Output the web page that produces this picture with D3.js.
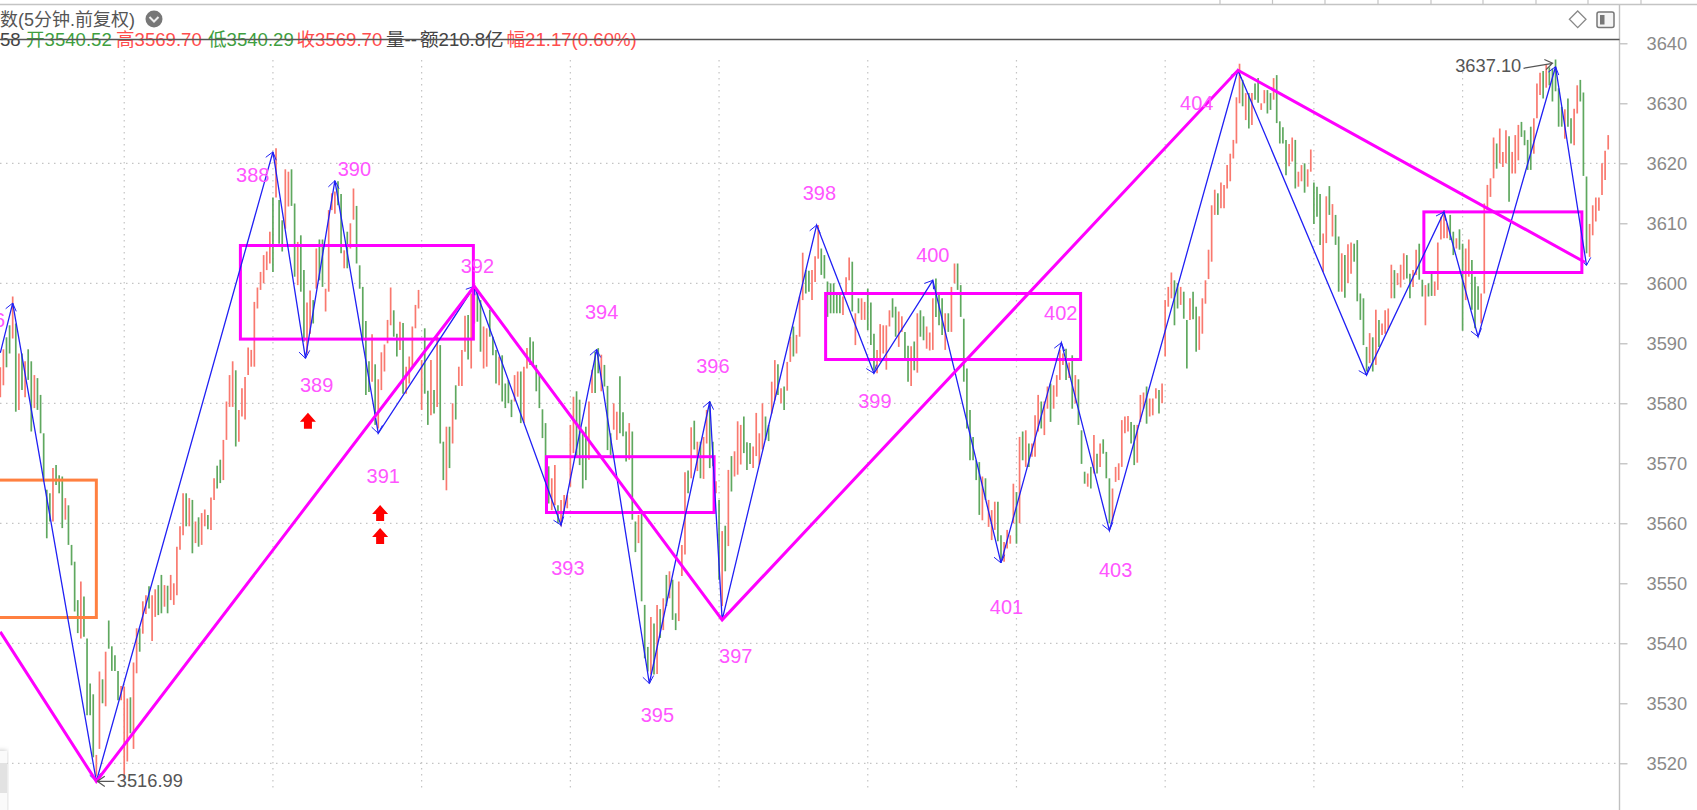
<!DOCTYPE html>
<html>
<head>
<meta charset="utf-8">
<script src="https://cdn.jsdelivr.net/npm/d3@7"></script>
<style>
    html, body { margin: 0; padding: 0; background: #fff; overflow: hidden; }
    text { font-family: "Liberation Sans", "Noto Sans CJK SC", sans-serif; }
</style>
</head>
<body>
<svg id="chart" width="1697" height="810"></svg>
<script>
// 5 minute bars, high / low / direction
const barHighs = [
    3586, 3589, 3591, 3593, 3597.8, 3593.3, 3588.3, 3588.3, 3587, 3589,
    3587, 3584.7, 3584.2, 3581.4, 3575, 3565.6, 3565, 3569.2, 3569.7, 3568,
    3567.8, 3564.2, 3563, 3556.4, 3553.6, 3547.2, 3550.3, 3547.8, 3540.8, 3533.3,
    3531.5, 3521.4, 3535.3, 3534, 3538.6, 3543.8, 3539.5, 3538, 3535.4, 3532.9,
    3532.8, 3530.8, 3531, 3536.8, 3542.5, 3542.5, 3547, 3548, 3549.5, 3548,
    3549, 3549.7, 3551.4, 3549.7, 3549.6, 3551.4, 3550, 3556.1, 3559.5, 3565,
    3565, 3564.2, 3563.9, 3560.3, 3561, 3561.7, 3562.3, 3561.4, 3564.3, 3567.5,
    3569.6, 3570.6, 3573.9, 3580.3, 3584.7, 3587, 3585.5, 3578.9, 3582.5, 3584.4,
    3589.3, 3588.9, 3596.9, 3599.3, 3601.9, 3604.7, 3605.3, 3608.6, 3614.3, 3622.5,
    3613.9, 3610.5, 3619, 3618.6, 3619, 3613.3, 3606.9, 3608, 3602.2, 3596.8,
    3598.8, 3597.2, 3605.8, 3607.3, 3607.3, 3599.1, 3612.2, 3615, 3615.3, 3617,
    3614.9, 3605.5, 3608.6, 3610, 3615.8, 3612.9, 3603, 3599.4, 3593.7, 3587,
    3591.5, 3586.5, 3584, 3588.5, 3589.8, 3593.9, 3599.3, 3595.5, 3591.6, 3593.6,
    3593.4, 3586.1, 3587.8, 3592.8, 3596.4, 3598.9, 3587.2, 3592.5, 3582.1, 3587.2,
    3582.2, 3591.1, 3589.7, 3573.6, 3576.1, 3576.1, 3580, 3583, 3586.1, 3588.9,
    3594.6, 3594.7, 3598.3, 3600, 3598.6, 3597.2, 3592.8, 3592.5, 3595.6, 3591.1,
    3588.9, 3587.8, 3588, 3583.3, 3583.9, 3580.6, 3584.7, 3585.3, 3585.3, 3586.1,
    3589.2, 3591, 3590.3, 3586.4, 3585, 3579, 3576.7, 3569.5, 3567.5, 3569.7,
    3563, 3563.9, 3564.7, 3564.7, 3576.4, 3581.1, 3582, 3580.6, 3575, 3576.1,
    3580.3, 3585.6, 3588.6, 3589.2, 3588.1, 3586.4, 3582.9, 3575, 3580, 3578.6,
    3584.5, 3578.5, 3575.3, 3576.7, 3575.3, 3560.3, 3561.4, 3561.7, 3546.4, 3539.4,
    3544.4, 3543.3, 3546.4, 3545.7, 3547.5, 3551.4, 3552, 3550.6, 3545, 3550.3,
    3556.4, 3568.5, 3568.8, 3576, 3577.1, 3573.6, 3573.6, 3574.4, 3578.9, 3580.3,
    3573.6, 3567, 3563.9, 3558.7, 3559.6, 3568.9, 3571.2, 3572, 3577, 3576.4,
    3577.8, 3573.5, 3573.4, 3572.8, 3578.4, 3575, 3580, 3577.8, 3576.4, 3583.6,
    3587.2, 3586.5, 3582.5, 3582.8, 3586.9, 3591.1, 3592.8, 3591.4, 3597.8, 3605.1,
    3602.2, 3602.1, 3602.2, 3604.5, 3609.7, 3605.8, 3604.7, 3600.3, 3600, 3600,
    3598.3, 3598.3, 3597.8, 3601, 3604.3, 3603.6, 3595, 3597.5, 3597.5, 3596.9,
    3599.1, 3596.8, 3591.6, 3588.9, 3593.2, 3593, 3593, 3595.5, 3597.5, 3596.1,
    3595.3, 3594.5, 3591.9, 3589.6, 3589.5, 3590.3, 3595, 3595.5, 3594.5, 3592.8,
    3591.8, 3597.5, 3600.8, 3598.3, 3597.5, 3595, 3595, 3599.4, 3603.3, 3603.3,
    3599.7, 3594.1, 3585.8, 3578.9, 3574.4, 3570.5, 3570.2, 3567.8, 3567.5, 3563.9,
    3562.2, 3563.6, 3563.6, 3558, 3556.9, 3558.9, 3558, 3566.6, 3565.2, 3574.4,
    3575.3, 3575.5, 3573.3, 3573.3, 3578, 3581.4, 3580.3, 3580.3, 3582.8, 3583.3,
    3583, 3584.7, 3588.9, 3588.3, 3589.1, 3586.8, 3588, 3584.7, 3584, 3575.5,
    3568.6, 3568.3, 3569.4, 3574.7, 3571.6, 3573.3, 3574, 3571.9, 3567.5, 3565.8,
    3569.4, 3570, 3577.2, 3577.8, 3577.9, 3576.9, 3576.4, 3576.4, 3581.4, 3581.8,
    3582.8, 3580.8, 3580.8, 3582.5, 3582.2, 3583.3, 3597.2, 3599.4, 3601.8, 3600.5,
    3600, 3599.4, 3598.6, 3593.9, 3597.5, 3598.6, 3596.1, 3594.5, 3597.5, 3600.5,
    3605.6, 3613, 3615.6, 3615, 3616.8, 3616.4, 3619.7, 3621.6, 3623.9, 3631,
    3636.6, 3633.9, 3631.7, 3631.7, 3631.7, 3633.3, 3634.2, 3630, 3632.2, 3632.2,
    3631.7, 3634.2, 3634.7, 3627, 3626, 3623.9, 3623.2, 3624.3, 3623.9, 3618.6,
    3619.7, 3620, 3619, 3622.3, 3616.8, 3616.1, 3614.9, 3608.3, 3614.5, 3616.2,
    3613.2, 3611.4, 3607.8, 3605, 3604.7, 3606.5, 3606.8, 3606.6, 3607.2, 3598.3,
    3597.5, 3589.4, 3591.7, 3591, 3595.6, 3593.9, 3593.3, 3595.5, 3595.8, 3603.1,
    3602.2, 3601.7, 3603.1, 3605, 3604.7, 3601.6, 3602.2, 3605.6, 3606.6, 3600.6,
    3599.7, 3600, 3601.7, 3600.3, 3606.8, 3611.1, 3612.2, 3610, 3611.4, 3608.6,
    3607.5, 3609, 3606.6, 3605.8, 3607.3, 3603.9, 3601.1, 3599.5, 3598.3, 3613.3,
    3616.4, 3617.5, 3624.3, 3623.3, 3625.8, 3621.9, 3625.5, 3624.5, 3621.9, 3624.7,
    3626.4, 3626.9, 3625.5, 3623.9, 3626.1, 3627.5, 3633.3, 3635.1, 3635.4, 3636.4,
    3636, 3635.8, 3637.3, 3632.5, 3629.4, 3629, 3630.8, 3627.5, 3629.1, 3633,
    3633.9, 3631.8, 3617.8, 3609.9, 3613, 3614.3, 3614.3, 3620, 3622.1, 3624.7
];
const barLows = [
    3581, 3583, 3586, 3588.3, 3590.8, 3578.6, 3578.9, 3582.2, 3581, 3583.9,
    3575.3, 3579.2, 3578.9, 3575, 3567, 3557.5, 3560.3, 3560.3, 3566.4, 3565,
    3559.2, 3560.6, 3556.4, 3553, 3545.3, 3541.7, 3540.8, 3541.1, 3528, 3528,
    3521, 3517.8, 3522.4, 3530, 3529.5, 3539.1, 3535.4, 3535.4, 3530.5, 3530.5,
    3517.5, 3520.3, 3525, 3522.4, 3535, 3538.6, 3541.6, 3544.9, 3545.8, 3540.4,
    3544.4, 3544.7, 3545, 3546.1, 3545, 3547.2, 3546.4, 3548, 3555.6, 3558,
    3559.5, 3559.5, 3555, 3556.7, 3556.1, 3556.4, 3559.5, 3559, 3558.9, 3563.9,
    3565.8, 3566.7, 3567.2, 3573.9, 3579.4, 3579.4, 3572.8, 3573.6, 3577.8, 3577.3,
    3584.7, 3586.1, 3586.1, 3595.8, 3598.9, 3600, 3602.2, 3603.3, 3601.9, 3614.3,
    3606.6, 3605.3, 3609.1, 3612.8, 3612.9, 3601.1, 3599.7, 3598.6, 3590.3, 3588.3,
    3591.6, 3593.3, 3599.1, 3600.5, 3599.4, 3595.3, 3598.6, 3612.2, 3611.6, 3613,
    3605, 3602.5, 3602.5, 3605.8, 3610.6, 3603.3, 3599.1, 3590.5, 3581.4, 3581.9,
    3583.6, 3576.4, 3575.8, 3582.2, 3585.3, 3590, 3593, 3591.1, 3587.8, 3588.9,
    3581.6, 3581.6, 3583.3, 3586.1, 3592.5, 3595.8, 3578.9, 3581.6, 3576.4, 3578,
    3578.3, 3579.4, 3573.3, 3567.2, 3565.5, 3569.2, 3573.3, 3577.3, 3582.9, 3582.9,
    3588.6, 3587.3, 3585.8, 3593.3, 3593.6, 3588.6, 3585.8, 3586.1, 3591.1, 3588,
    3583.3, 3583, 3580.3, 3579.2, 3580, 3577.7, 3580.3, 3581.1, 3576.7, 3576.7,
    3585.8, 3586.4, 3586.1, 3582, 3579.2, 3574.2, 3567, 3563.3, 3562.2, 3563,
    3560, 3559.5, 3561.7, 3562.5, 3566.1, 3571.7, 3571.1, 3569.7, 3565.8, 3567.2,
    3570.6, 3581.7, 3581.7, 3585, 3582, 3582.8, 3572.2, 3571.4, 3575.6, 3573.9,
    3575, 3574.5, 3570.3, 3570.6, 3560.6, 3555.2, 3556.7, 3547, 3537.5, 3535.3,
    3534.8, 3534.8, 3534.9, 3540.9, 3542.2, 3546.2, 3547.5, 3543.9, 3542.2, 3543.7,
    3551.2, 3554.8, 3565, 3567.5, 3572.3, 3568.7, 3567.5, 3567.4, 3573.3, 3569.2,
    3569.5, 3565, 3550.6, 3546.2, 3552, 3556.2, 3565.3, 3567.8, 3568.1, 3569.8,
    3571.7, 3568.9, 3569.9, 3569.2, 3571.2, 3569.8, 3572.3, 3573.9, 3573.7, 3578.3,
    3580.5, 3581.4, 3580, 3578.9, 3582.1, 3586.9, 3587.8, 3588.3, 3591.1, 3597.2,
    3598.3, 3598.6, 3597.2, 3600.2, 3604.1, 3601.4, 3600.8, 3594.4, 3595, 3595,
    3595, 3595, 3594.7, 3598.3, 3600.5, 3595.3, 3589.7, 3595, 3593.9, 3593.9,
    3592.2, 3589.7, 3585.5, 3585, 3586.9, 3588.3, 3585.6, 3592.8, 3594.3, 3591.1,
    3589.4, 3591.9, 3587.2, 3583.6, 3582.9, 3585.5, 3585.1, 3591.1, 3590.5, 3589.1,
    3588.8, 3588.9, 3594.4, 3593, 3591.4, 3588.9, 3591.9, 3591.9, 3600, 3598.9,
    3594.4, 3583.6, 3575.8, 3570.5, 3570.5, 3567.2, 3561.4, 3560.5, 3563.9, 3559.4,
    3557.2, 3558.9, 3557, 3553.9, 3553.6, 3555.8, 3556.6, 3560, 3556.6, 3560,
    3570.5, 3569.4, 3569.4, 3571.1, 3571.1, 3575.3, 3575.8, 3574.7, 3579.1, 3576.9,
    3579.1, 3581.1, 3583.9, 3586.4, 3583.9, 3584.2, 3579.1, 3580, 3576.4, 3569.9,
    3566.6, 3566.1, 3565.8, 3568.3, 3568.3, 3569.4, 3571.6, 3567.5, 3560, 3560.3,
    3566.9, 3567.2, 3569.4, 3575, 3575.3, 3573.3, 3569.7, 3570.1, 3576.9, 3579.1,
    3576.6, 3577.8, 3578, 3580.8, 3578.3, 3580, 3587.8, 3596.1, 3597.5, 3593,
    3595.8, 3596.4, 3594.1, 3585.8, 3593.9, 3594, 3588.6, 3588.9, 3591.6, 3596.6,
    3600.7, 3603.6, 3611.4, 3611.4, 3612.5, 3612.5, 3615.8, 3617, 3620.8, 3623.3,
    3630, 3629.5, 3627.2, 3625.8, 3626.4, 3630.6, 3630.1, 3628.9, 3630, 3628.3,
    3628.9, 3630.6, 3626.7, 3623.3, 3623.3, 3618, 3619.5, 3620.3, 3615.8, 3616.1,
    3617, 3615.1, 3616.1, 3618.6, 3609.9, 3611.1, 3606.4, 3601.9, 3606.7, 3611.4,
    3607.8, 3606.4, 3598.6, 3598.6, 3597.6, 3600, 3601.6, 3603.6, 3597, 3593.9,
    3589.7, 3585.3, 3586.7, 3585.3, 3586.4, 3589.4, 3591.4, 3591.6, 3592.2, 3597.5,
    3597.5, 3599.7, 3599.3, 3600.6, 3600.8, 3597.5, 3599.4, 3601.4, 3600.6, 3597.8,
    3593, 3597.8, 3597.9, 3597.9, 3598.9, 3607.3, 3607.5, 3607.5, 3607.2, 3604.7,
    3605.8, 3605.6, 3592.1, 3597.2, 3601.1, 3595.6, 3592.5, 3595.6, 3593.3, 3598.3,
    3612.2, 3614.4, 3617.5, 3619.1, 3620, 3619.4, 3620, 3613.6, 3618.3, 3618.3,
    3620.5, 3624.4, 3623, 3618.9, 3618.9, 3621.6, 3627.5, 3631.4, 3630.8, 3632.6,
    3633, 3630.3, 3632, 3626.1, 3626.1, 3624.1, 3626.1, 3623.3, 3623, 3628.3,
    3630.3, 3617.9, 3605, 3604.4, 3608, 3610.3, 3612.1, 3614.7, 3617.2, 3622.3
];
// r = up bar, g = down bar, ten bars to a row
const barDirs = [
    "rrggrgrgrg", "grgggggrgg", "grggggrggg", "grrgrggggr", "rrgrrgrrgr",
    "rggrgrrrrr", "grgrgrrgrr", "ggrrrrgrrr", "rrrrrrrrgr", "ggrrggrggr",
    "rgrggrrrrg", "grgrrggggg", "rgrrrrrggr", "grrrrrrggr", "grggrgrgrr",
    "rgrrggrrgg", "grggggrrgr", "rgggggggrr", "grrrrrgggg", "rrggrgggrr",
    "gggrggrggg", "rgrgrgrggr", "rrgrgrgrrg", "grgrgrgrrr", "gggrrrrggr",
    "rgrgrrgrrr", "ggrrrggggg", "ggrrrgrgrr", "gggrrrrrgg", "rrggrgrggr",
    "rrgggrgrrg", "gggggggrgr", "rrggrrrrgr", "grgrrrgrrg", "rrrrgrgrgg",
    "grgrgrgggr", "rrrrrggrrr", "grrrgrrrrg", "grggrggrrr", "rrrgrrrrrr",
    "rgrgrggrrg", "grggggrrgr", "rgrrgggrrg", "rggrgrrggg", "ggrgrgrrrr",
    "grrrggrrgg", "rggrrrrrgg", "rggrrgggrr", "rrrgrrrgrr", "rggggrrrgr",
    "gggggrggrr", "gggrrrrrrr"
];
const barColors = barDirs.join("").split("");

// stroke pivots (bar position, price)
const penBars = [0, 4, 31, 88, 98.5, 108, 122, 153, 181, 192.5, 209.5, 229, 233, 263.5, 282, 301, 323, 342.5, 358, 399.5, 441, 466, 477, 502, 512];
const penPrices = [3588.4, 3596.7, 3516.99, 3621.9, 3587.5, 3617.1, 3575, 3599.5, 3559.7, 3589, 3533.3, 3580.3, 3543.9, 3609.7, 3585, 3600.5, 3553.4, 3590.1, 3558.8, 3635.5, 3584.7, 3611.9, 3591.1, 3636.1, 3603];

// segment pivots
const segmentBars = [0, 31, 153, 233, 399.5, 511.5];
const segmentPrices = [3541.9, 3516.99, 3599.5, 3543.9, 3635.5, 3603.5];

// hub boxes, the first one runs off the left edge
const boxLefts = [-3, 77.5, 176.3, 266.4, 459.5];
const boxRights = [31, 152.7, 230.4, 348.7, 510.5];
const boxTops = [3567.2, 3606.3, 3571.1, 3598.3, 3611.9];
const boxBottoms = [3544.3, 3590.7, 3561.8, 3587.3, 3601.8];
const boxColors = ["#ff8040", "#ff00ff", "#ff00ff", "#ff00ff", "#ff00ff"];

// stroke numbers
const labelTexts = ["386", "388", "389", "390", "391", "392", "393", "394", "395", "396", "397", "398", "399", "400", "401", "402", "403", "404"];
const labelBars = [-3.8, 81.5, 102.1, 114.3, 123.6, 154, 183.2, 194.1, 212.1, 230, 237.4, 264.4, 282.3, 301, 324.8, 342.3, 360, 386.2];
const labelPrices = [3592.7, 3616.9, 3581.9, 3617.9, 3566.8, 3601.8, 3551.4, 3594, 3526.9, 3585.1, 3536.8, 3613.9, 3579.2, 3603.6, 3544.9, 3593.9, 3551, 3628.9];

// red buy arrows
const arrowBars = [99.3, 122.6, 122.6];
const arrowPrices = [3577.1, 3561.7, 3557.9];

// high / low notes
const noteTexts = ["3516.99", "3637.10"];
const noteBars = [37.6, 469.6];
const notePrices = [3516.9, 3636];
const noteTipBars = [31, 502];
const noteTipPrices = [3516.99, 3637];

const priceTicks = [3640, 3630, 3620, 3610, 3600, 3590, 3580, 3570, 3560, 3550, 3540, 3530, 3520];
const gridPrices = [3620, 3600, 3580, 3560, 3540, 3520];
const dayBars = [40, 88, 136, 184, 232, 280, 328, 376, 424, 472];
const topTabs = [1220, 1272.5, 1325, 1378, 1431, 1483, 1536, 1588, 1641];

const titleText = "数(5分钟.前复权)";
const quoteTexts = ["58", "开3540.52", "高3569.70", "低3540.29", "收3569.70", "量--", "额210.8亿", "幅21.17(0.60%)"];
const quoteLefts = [0, 26, 116, 208, 296.5, 386, 420, 506.5];
const quoteColors = ["#444", "#3f9f3f", "#ff4d4d", "#3f9f3f", "#ff4d4d", "#444", "#444", "#ff4d4d"];

const svg = d3.select("#chart");
const plotRight = 1619.5;

const x = d3.scaleLinear().domain([0, 520]).range([0.3, 1611.3]);
const y = d3.scaleLinear().domain([3600, 3520]).range([283.3, 763.3]);

// Grid
const grid = svg.append("g");
grid.selectAll(".h").data(gridPrices).join("line")
    .attr("x1", 0).attr("x2", plotRight)
    .attr("y1", d => y(d)).attr("y2", d => y(d));
grid.selectAll(".v").data(dayBars).join("line")
    .attr("x1", d => x(d)).attr("x2", d => x(d))
    .attr("y1", 60).attr("y2", 792);
grid.selectAll("line")
    .attr("stroke", "#c4c4c4").attr("stroke-width", 1.2).attr("stroke-dasharray", "1.5 4.5");

// Bars
svg.append("g").selectAll("line").data(barHighs).join("line")
    .attr("x1", (d, i) => x(i)).attr("x2", (d, i) => x(i))
    .attr("y1", d => y(d))
    .attr("y2", (d, i) => y(barLows[i]))
    .attr("stroke", (d, i) => barColors[i] === "r" ? "#f9796f" : "#5fa85f")
    .attr("stroke-width", 1.7);

// Boxes
svg.append("g").selectAll("rect").data(boxLefts).join("rect")
    .attr("x", d => x(d))
    .attr("y", (d, i) => y(boxTops[i]))
    .attr("width", (d, i) => x(boxRights[i]) - x(d))
    .attr("height", (d, i) => y(boxBottoms[i]) - y(boxTops[i]))
    .attr("fill", "none")
    .attr("stroke", (d, i) => boxColors[i])
    .attr("stroke-width", 3);

// Thin pen with open arrow heads
const penPoints = penBars.map((b, i) => [x(b), y(penPrices[i])]);
const lineGen = d3.line();
svg.append("path")
    .attr("d", lineGen(penPoints))
    .attr("fill", "none").attr("stroke", "#2020f4").attr("stroke-width", 1.3);

function arrowHead(from, to, size, spread) {
    const a = Math.atan2(from[1] - to[1], from[0] - to[0]);
    return lineGen([
        [to[0] + size * Math.cos(a - spread), to[1] + size * Math.sin(a - spread)],
        to,
        [to[0] + size * Math.cos(a + spread), to[1] + size * Math.sin(a + spread)]
    ]);
}
svg.append("g").selectAll("path").data(penPoints.slice(1)).join("path")
    .attr("d", (d, i) => arrowHead(penPoints[i], d, 9, 0.65))
    .attr("fill", "none").attr("stroke", "#2020f4").attr("stroke-width", 1);

// Thick segment line
svg.append("path")
    .attr("d", lineGen(segmentBars.map((b, i) => [x(b), y(segmentPrices[i])])))
    .attr("fill", "none").attr("stroke", "#ff00ff").attr("stroke-width", 3);

// Stroke numbers
svg.append("g").selectAll("text").data(labelTexts).join("text")
    .attr("x", (d, i) => x(labelBars[i]))
    .attr("y", (d, i) => y(labelPrices[i]))
    .attr("text-anchor", "middle")
    .attr("font-size", 20)
    .attr("fill", "#ff55ff")
    .text(d => d);

// Buy arrows
svg.append("g").selectAll("path").data(arrowBars).join("path")
    .attr("transform", (d, i) => `translate(${x(d)},${y(arrowPrices[i])})`)
    .attr("d", "M0,-8 L8,1 L4,1 L4,8 L-4,8 L-4,1 L-8,1 Z")
    .attr("fill", "#ff0000");

// High and low notes
const noteGroup = svg.append("g");
noteGroup.selectAll("text").data(noteTexts).join("text")
    .attr("x", (d, i) => x(noteBars[i]))
    .attr("y", (d, i) => y(notePrices[i]))
    .attr("font-size", 18.3)
    .attr("fill", "#555")
    .attr("dominant-baseline", "middle")
    .text(d => d);
noteGroup.selectAll("path").data(noteTexts).join("path")
    .attr("d", (d, i) => {
        const tip = [x(noteTipBars[i]) + (i === 0 ? 1 : -3), y(noteTipPrices[i]) + (i === 0 ? 0 : 2)];
        const tail = i === 0 ? [tip[0] + 17, tip[1]] : [tip[0] - 29, tip[1] + 5];
        return lineGen([tail, tip]) + arrowHead(tail, tip, 9, 0.6);
    })
    .attr("fill", "none").attr("stroke", "#555").attr("stroke-width", 1.2);

// Price axis
const axis = svg.append("g")
    .attr("transform", `translate(${plotRight},0)`)
    .call(d3.axisRight(y).tickValues(priceTicks).tickSize(8).tickPadding(19).tickFormat(d3.format("d")));
axis.select(".domain").remove();
axis.selectAll("line").attr("stroke", "#bbb").attr("stroke-width", 1.2);
axis.selectAll("text").attr("fill", "#8a8a8a").attr("font-size", 18.3)
    .attr("font-family", "Liberation Sans");

// Frame
svg.append("line").attr("x1", plotRight).attr("x2", plotRight).attr("y1", 5).attr("y2", 810)
    .attr("stroke", "#c0c0c0").attr("stroke-width", 1.4);
svg.append("line").attr("x1", 0).attr("x2", 1697).attr("y1", 4.5).attr("y2", 4.5)
    .attr("stroke", "#c4c4c4").attr("stroke-width", 1.4);
svg.append("g").selectAll("line").data(topTabs).join("line")
    .attr("x1", d => d).attr("x2", d => d).attr("y1", 0).attr("y2", 4)
    .attr("stroke", "#c4c4c4").attr("stroke-width", 1.2);

// Header texts
svg.append("text").attr("x", 0).attr("y", 26).attr("font-size", 18).attr("fill", "#555").text(titleText);
svg.append("circle").attr("cx", 154).attr("cy", 19).attr("r", 8.5).attr("fill", "#777");
svg.append("path").attr("d", "M149.5,17 L154,21.5 L158.5,17").attr("fill", "none").attr("stroke", "#eee").attr("stroke-width", 2);

svg.append("g").selectAll("text").data(quoteTexts).join("text")
    .attr("x", (d, i) => quoteLefts[i])
    .attr("y", 46)
    .attr("font-size", 18.6)
    .attr("fill", (d, i) => quoteColors[i])
    .text(d => d);
svg.append("line").attr("x1", 0).attr("x2", plotRight).attr("y1", 39.5).attr("y2", 39.5)
    .attr("stroke", "#555").attr("stroke-width", 1.4);

// Top right icons
svg.append("path").attr("d", "M1577.7,11 L1586,19.3 L1577.7,27.6 L1569.4,19.3 Z")
    .attr("fill", "#fff").attr("stroke", "#888").attr("stroke-width", 1.3);
svg.append("rect").attr("x", 1597).attr("y", 12).attr("width", 17).attr("height", 15.5).attr("rx", 2)
    .attr("fill", "#f4f4f4").attr("stroke", "#777").attr("stroke-width", 1.5);
svg.append("rect").attr("x", 1600).attr("y", 15).attr("width", 4.5).attr("height", 9.5).attr("fill", "#777");

// Corner of a popup left on the bottom edge
const defs = svg.append("defs");
defs.append("filter").attr("id", "soft").append("feGaussianBlur").attr("stdDeviation", 2);
svg.append("rect").attr("x", -4).attr("y", 750).attr("width", 11).attr("height", 64)
    .attr("fill", "#999").attr("opacity", 0.45).attr("filter", "url(#soft)");
svg.append("rect").attr("x", -4).attr("y", 751).attr("width", 11).attr("height", 60).attr("fill", "#fafafa");
svg.append("rect").attr("x", -4).attr("y", 763).attr("width", 11).attr("height", 30).attr("fill", "#e2e2e2");
</script>
</body>
</html>
